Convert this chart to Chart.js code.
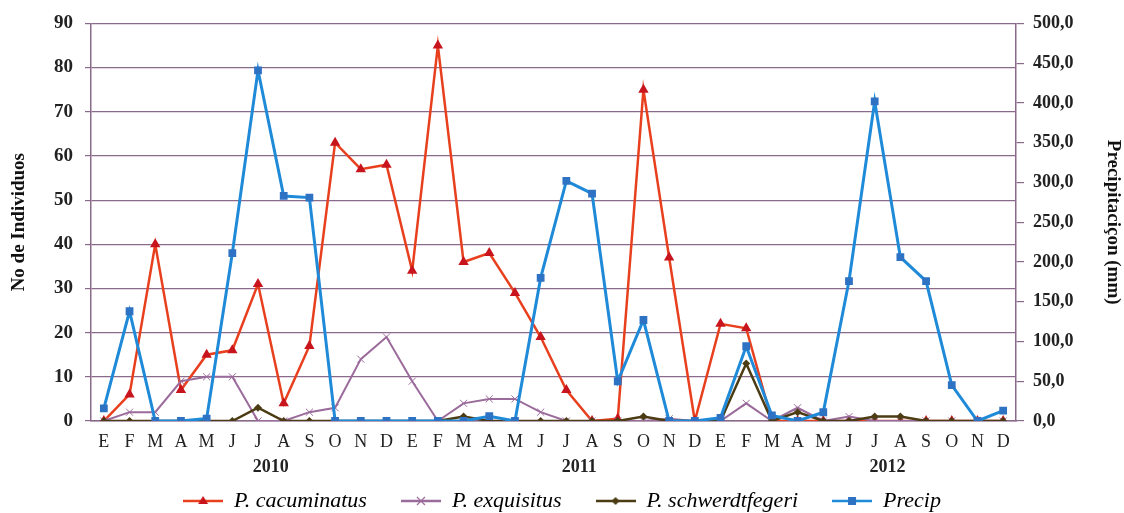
<!DOCTYPE html>
<html>
<head>
<meta charset="utf-8">
<script src="https://cdn.jsdelivr.net/npm/chart.js@4.4.0/dist/chart.umd.min.js"></script>
<style>
  html, body { margin: 0; padding: 0; background: #fff; }
  #wrap { width: 1124px; height: 513px; }
</style>
</head>
<body>
<div id="wrap"><canvas id="myChart" width="1124" height="513"></canvas></div>
<script>
// month labels, three years
const months = ['E','F','M','A','M','J','J','A','S','O','N','D',
                'E','F','M','A','M','J','J','A','S','O','N','D',
                'E','F','M','A','M','J','J','A','S','O','N','D'];
const years = ['2010', '2011', '2012'];
const yearCenters = [6.5, 18.5, 30.5];

const cacuminatus = [0, 6, 40, 7, 15, 16, 31, 4, 17, 63, 57, 58,
                     34, 85, 36, 38, 29, 19, 7, 0, 0.5, 75, 37, 0,
                     22, 21, 0, 0, 0, 0, 0, 0, 0, 0, 0, 0];
const exquisitus = [0, 2, 2, 9, 10, 10, 0, 0, 2, 3, 14, 19,
                    9, 0, 4, 5, 5, 2, 0, 0, 0, 0, 0.5, 0,
                    0, 4, 0, 3, 0, 1, 0, 0, 0, 0, 0, 0];
const schwerdtfegeri = [0, 0, 0, 0, 0, 0, 3, 0, 0, 0, 0, 0,
                        0, 0, 1, 0, 0, 0, 0, 0, 0, 1, 0, 0,
                        0, 13, 0, 2, 0, 0, 1, 1, 0, 0, 0, 0];
const precip = [16, 138, 0, 0, 3, 211, 441, 283, 281, 0, 0, 0,
                0, 0, 0, 6, 0, 180, 302, 286, 50, 127, 0, 0,
                4, 94, 7, 0, 11, 176, 402, 206, 176, 45, 0, 13];

const serif = "'Liberation Serif', 'DejaVu Serif', serif";
const axisColor = '#8a6a8a';

// legend icon: short line with the marker in the middle
function legendIcon(lineColor, markColor, shape) {
    const c = document.createElement('canvas');
    c.width = 40; c.height = 14;
    const g = c.getContext('2d');
    g.strokeStyle = lineColor;
    g.lineWidth = 2.5;
    g.beginPath(); g.moveTo(0, 7); g.lineTo(40, 7); g.stroke();
    g.fillStyle = markColor;
    g.strokeStyle = markColor;
    if (shape === 'triangle') {
        g.beginPath(); g.moveTo(20, 2); g.lineTo(25, 10); g.lineTo(15, 10); g.closePath(); g.fill();
    } else if (shape === 'cross') {
        g.lineWidth = 1.2;
        g.beginPath(); g.moveTo(16, 3); g.lineTo(24, 11); g.moveTo(24, 3); g.lineTo(16, 11); g.stroke();
    } else if (shape === 'diamond') {
        g.beginPath(); g.moveTo(20, 3); g.lineTo(24, 7); g.lineTo(20, 11); g.lineTo(16, 7); g.closePath(); g.fill();
    } else {
        g.fillRect(16, 3, 8, 8);
    }
    return c;
}

const yearLabels = {
    id: 'yearLabels',
    afterDraw(chart) {
        const ctx = chart.ctx;
        const x = chart.scales.x;
        ctx.save();
        ctx.font = 'bold 18px ' + serif;
        ctx.fillStyle = '#222';
        ctx.textAlign = 'center';
        ctx.textBaseline = 'middle';
        years.forEach((y, i) => {
            const px = (x.getPixelForValue(Math.floor(yearCenters[i])) + x.getPixelForValue(Math.ceil(yearCenters[i]))) / 2;
            ctx.fillText(y, px, chart.chartArea.bottom + 46);
        });
        ctx.restore();
    }
};

const ctx = document.getElementById('myChart').getContext('2d');
new Chart(ctx, {
    type: 'line',
    data: {
        labels: months,
        datasets: [{
            label: 'P. cacuminatus',
            data: cacuminatus,
            yAxisID: 'y',
            borderColor: '#e8401e',
            backgroundColor: '#c8141c',
            borderWidth: 2.5,
            pointStyle: 'triangle',
            pointRadius: 6,
            pointBorderWidth: 0,
            tension: 0,
            order: 3,
            icon: legendIcon('#e8401e', '#c8141c', 'triangle')
        }, {
            label: 'P. exquisitus',
            data: exquisitus,
            yAxisID: 'y',
            borderColor: '#9b6b9b',
            backgroundColor: '#9b6b9b',
            pointBorderColor: '#9b6b9b',
            borderWidth: 2,
            pointStyle: 'crossRot',
            pointRadius: 5,
            pointBorderWidth: 1,
            tension: 0,
            order: 2,
            icon: legendIcon('#9b6b9b', '#9b6b9b', 'cross')
        }, {
            label: 'P. schwerdtfegeri',
            data: schwerdtfegeri,
            yAxisID: 'y',
            borderColor: '#4b3c14',
            backgroundColor: '#4b3c14',
            borderWidth: 2.5,
            pointStyle: 'rectRot',
            pointRadius: 4,
            pointBorderWidth: 0,
            tension: 0,
            order: 1,
            icon: legendIcon('#4b3c14', '#4b3c14', 'diamond')
        }, {
            label: 'Precip',
            data: precip,
            yAxisID: 'y1',
            borderColor: '#1f8ad8',
            backgroundColor: '#2e72c4',
            borderWidth: 3,
            pointStyle: 'rect',
            pointRadius: 5.5,
            pointBorderWidth: 0,
            tension: 0,
            order: 0,
            icon: legendIcon('#1f8ad8', '#2e72c4', 'square')
        }]
    },
    options: {
        responsive: false,
        animation: false,
        layout: { padding: { top: 23, bottom: -9, left: 0, right: 0 } },
        plugins: {
            tooltip: { enabled: false },
            legend: {
                position: 'bottom',
                labels: {
                    usePointStyle: true,
                    pointStyleWidth: 40,
                    padding: 34,
                    color: '#111',
                    font: { family: serif, size: 22, style: 'italic' },
                    generateLabels(chart) {
                        return chart.data.datasets.map((ds, i) => ({
                            text: ds.label,
                            pointStyle: ds.icon,
                            fillStyle: ds.borderColor,
                            strokeStyle: ds.borderColor,
                            lineWidth: 0,
                            hidden: false,
                            datasetIndex: i
                        }));
                    }
                }
            }
        },
        scales: {
            x: {
                offset: true,
                grid: { display: false, drawTicks: false },
                border: { display: true, color: axisColor, width: 1.5 },
                ticks: {
                    autoSkip: false,
                    maxRotation: 0,
                    padding: 10,
                    color: '#222',
                    font: { family: serif, size: 18 }
                },
                afterFit(scale) { scale.height = 35; }
            },
            y: {
                position: 'left',
                min: 0,
                max: 90,
                ticks: {
                    stepSize: 10,
                    padding: 12,
                    color: '#222',
                    font: { family: serif, size: 19, weight: 'bold' }
                },
                grid: { color: axisColor, lineWidth: 1.2, tickLength: 6 },
                border: { display: true, color: axisColor, width: 1.5 },
                title: {
                    display: true,
                    text: 'No de Individuos',
                    color: '#111',
                    font: { family: serif, size: 19, weight: 'bold' },
                    padding: { top: 8, bottom: 0 }
                },
                afterFit(scale) { scale.width = 91; }
            },
            y1: {
                position: 'right',
                min: 0,
                max: 500,
                ticks: {
                    stepSize: 50,
                    padding: 9,
                    color: '#222',
                    font: { family: serif, size: 18, weight: 'bold' },
                    callback: v => v.toFixed(1).replace('.', ',')
                },
                grid: { drawOnChartArea: false, color: axisColor, lineWidth: 1.2, tickLength: 8 },
                border: { display: true, color: axisColor, width: 1.5 },
                title: {
                    display: true,
                    text: 'Precipitaciçon (mm)',
                    color: '#111',
                    font: { family: serif, size: 19, weight: 'bold' },
                    padding: 0
                },
                afterFit(scale) { scale.width = 108; }
            }
        }
    },
    plugins: [yearLabels]
});
</script>
</body>
</html>
